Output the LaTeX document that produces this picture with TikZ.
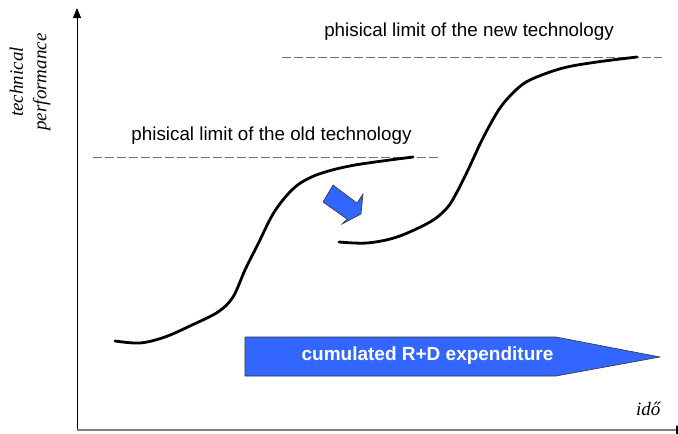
\documentclass[tikz,border=0pt]{standalone}
\usepackage{fontspec}
\setmainfont{Liberation Serif}
\setsansfont{Liberation Sans}
\usepackage{tikz}
\usetikzlibrary{arrows.meta}
\definecolor{techBlue}{RGB}{51,102,255}
\definecolor{limitGray}{RGB}{110,110,110}
\definecolor{axisGray}{RGB}{128,128,128}

\begin{document}
\begin{tikzpicture}[x=1pt, y=-1pt,
    limit/.style={limitGray, line width=1.1pt, dash pattern=on 8.5pt off 3.5pt},
    scurve/.style={line width=2.8pt, line cap=round},
    blockarrow/.style={fill=techBlue, draw=black!80, line width=0.6pt, line join=miter},
    label/.style={font=\sffamily\fontsize{18.8}{22}\selectfont}]
        \useasboundingbox (0,0) rectangle (678,434);
        % Axes
        \coordinate (origin) at (77,430);
        \coordinate (ytop) at (77,8);
        \coordinate (xend) at (686,430);
        \draw[line width=1pt, -{Triangle[length=10pt, width=8pt]}] (origin) -- (ytop);
        \draw[axisGray, line width=1.6pt, -{Triangle[length=10pt, width=9pt, color=black]}] (origin) -- (xend);
        \node[font=\itshape\fontsize{19}{23.5}\selectfont, rotate=90, align=center]
          (perf) at (30,82) {technical\\performance};
        \node[font=\itshape\fontsize{19}{23}\selectfont, anchor=base east] (ido) at (664,415) {idő};
        % Physical limits
        \draw[limit] (282,57.5) -- (662,57.5);
        \node[label, anchor=base] (newlimit) at (469,36) {phisical limit of the new technology};
        \draw[limit] (93,157.5) -- (438,157.5);
        \node[label, anchor=base] (oldlimit) at (271.5,140) {phisical limit of the old technology};
        % Old technology S-curve
        \draw[scurve] plot[smooth, tension=0.55] coordinates {(115,341) (140,343) (165,337) (192,325)
          (218,312) (233,297) (245,270) (258,244) (273,214) (288,194) (302,182) (322,173) (355,165) (413,157)};
        % New technology S-curve
        \draw[scurve] plot[smooth, tension=0.55] coordinates {(339,242) (367,243) (397,237) (430,222)
          (447,208) (457,192) (468,170) (483,138) (500,108) (517,89) (532,79) (563,68) (597,62) (637,57)};
        % Jump to the new curve
        \draw[blockarrow] (333,185) -- (357,203) -- (363,194) -- (361,214) -- (342,224)
          -- (347,219) -- (323,202) -- cycle;
        % R+D expenditure
        \draw[blockarrow] (245,337) -- (556,337) -- (660,357) -- (556,376) -- (245,376) -- cycle;
        \node[font=\sffamily\bfseries\fontsize{19}{22}\selectfont, text=white]
          (rnd) at (427.5,356) {cumulated R+D expenditure};
      \end{tikzpicture}
\end{document}
